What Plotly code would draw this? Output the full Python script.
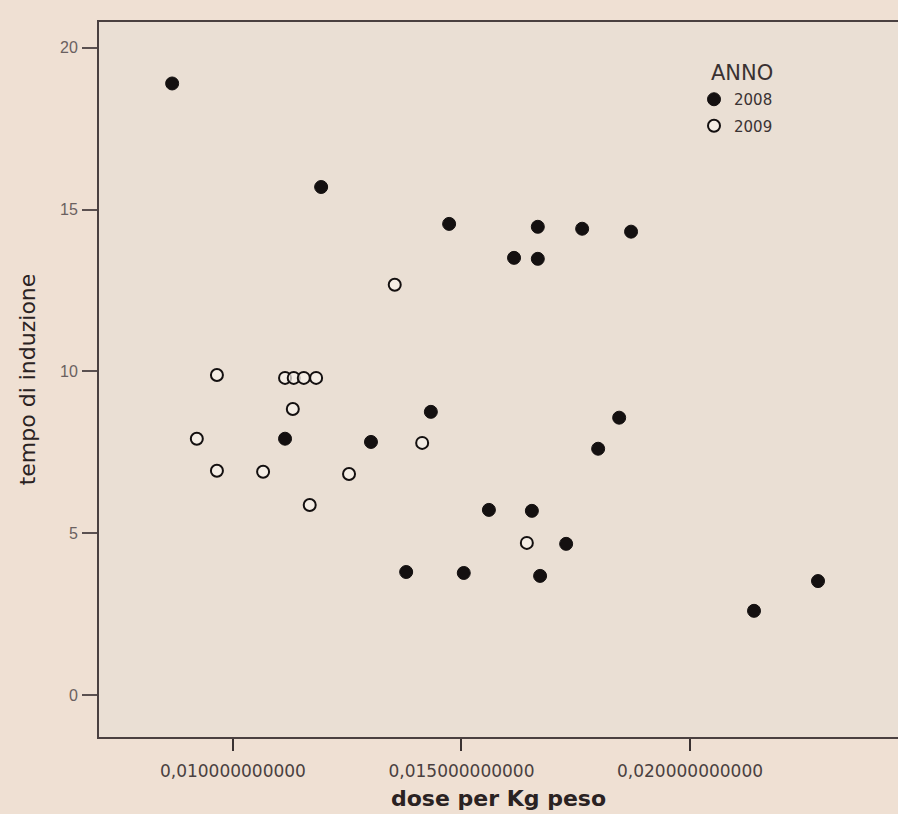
import plotly.graph_objects as go

# Data
dose_2008 = [0.00867, 0.01193, 0.01473, 0.01667, 0.01764, 0.01871, 0.01615, 0.01667,
             0.01114, 0.01302, 0.01433, 0.01845, 0.01799, 0.01560, 0.01654, 0.01729,
             0.01505, 0.01672, 0.01379, 0.02280, 0.02140]
tempo_2008 = [18.9, 15.7, 14.56, 14.47, 14.41, 14.32, 13.51, 13.48,
              7.92, 7.82, 8.75, 8.57, 7.61, 5.72, 5.69, 4.67,
              3.77, 3.68, 3.80, 3.52, 2.60]

dose_2009 = [0.01354, 0.00965, 0.01114, 0.01133, 0.01155, 0.01182, 0.01131, 0.00921,
             0.01414, 0.00965, 0.01066, 0.01254, 0.01168, 0.01643]
tempo_2009 = [12.68, 9.89, 9.80, 9.80, 9.80, 9.80, 8.84, 7.92,
              7.79, 6.93, 6.90, 6.83, 5.87, 4.70]

x_tickvals = [0.010, 0.015, 0.020]
x_ticktext = ["0,010000000000", "0,015000000000", "0,020000000000"]
y_tickvals = [0, 5, 10, 15, 20]
legend_title = "ANNO"

fig = go.Figure()
fig.add_trace(go.Scatter(
    x=dose_2008, y=tempo_2008, mode="markers", name="2008", legendgroup="a",
    marker=dict(symbol="circle", size=13, color="#141010",
                line=dict(color="#141010", width=1)),
))
fig.add_trace(go.Scatter(
    x=dose_2009, y=tempo_2009, mode="markers", name="2009", legendgroup="b",
    marker=dict(symbol="circle", size=12, color="rgba(248,242,236,0.7)",
                line=dict(color="#141010", width=2)),
))

fig.add_annotation(
    text=legend_title, xref="paper", yref="paper",
    x=(742 - 99) / 799, y=(737 - 73) / 715, xanchor="center", yanchor="middle",
    showarrow=False, font=dict(size=21, color="#3a3232", family="DejaVu Sans, sans-serif"),
)

fig.update_layout(
    width=898, height=814,
    margin=dict(l=99, r=0, t=22, b=77),
    paper_bgcolor="#efe0d3",
    plot_bgcolor="#eadfd4",
    font=dict(family="Liberation Sans, Arial, sans-serif", color="#3a3232"),
    showlegend=True,
    legend=dict(
        x=(694 - 99) / 799, y=(737 - 83) / 715, xanchor="left", yanchor="top",
        bgcolor="rgba(0,0,0,0)",
        font=dict(size=15, color="#3a3232", family="DejaVu Sans, sans-serif"),
        tracegroupgap=4,
        itemwidth=30,
    ),
    xaxis=dict(
        range=[0.00707, 0.02455],
        tickvals=x_tickvals, ticktext=x_ticktext,
        ticks="outside", ticklen=12, tickwidth=2, tickcolor="#3a3232",
        ticklabelstandoff=6,
        tickfont=dict(size=17, color="#4a4040", family="DejaVu Sans, sans-serif"),
        showgrid=False, zeroline=False,
        showline=True, linecolor="#4a4040", linewidth=2, mirror=True,
        title=dict(text="<b>dose per Kg peso</b>",
                   font=dict(size=22, color="#2a2222", family="DejaVu Sans, sans-serif"),
                   standoff=10),
    ),
    yaxis=dict(
        range=[-1.3, 20.8],
        tickvals=y_tickvals,
        ticks="outside", ticklen=15, tickwidth=2, tickcolor="#5a5050",
        ticklabelstandoff=1,
        tickfont=dict(size=16, color="#6a6060"),
        showgrid=False, zeroline=False,
        showline=True, linecolor="#4a4040", linewidth=2, mirror=False,
        title=dict(text="tempo di induzione",
                   font=dict(size=22, color="#2a2222", family="DejaVu Sans, sans-serif"),
                   standoff=18),
    ),
)

fig.write_html("out.html")
